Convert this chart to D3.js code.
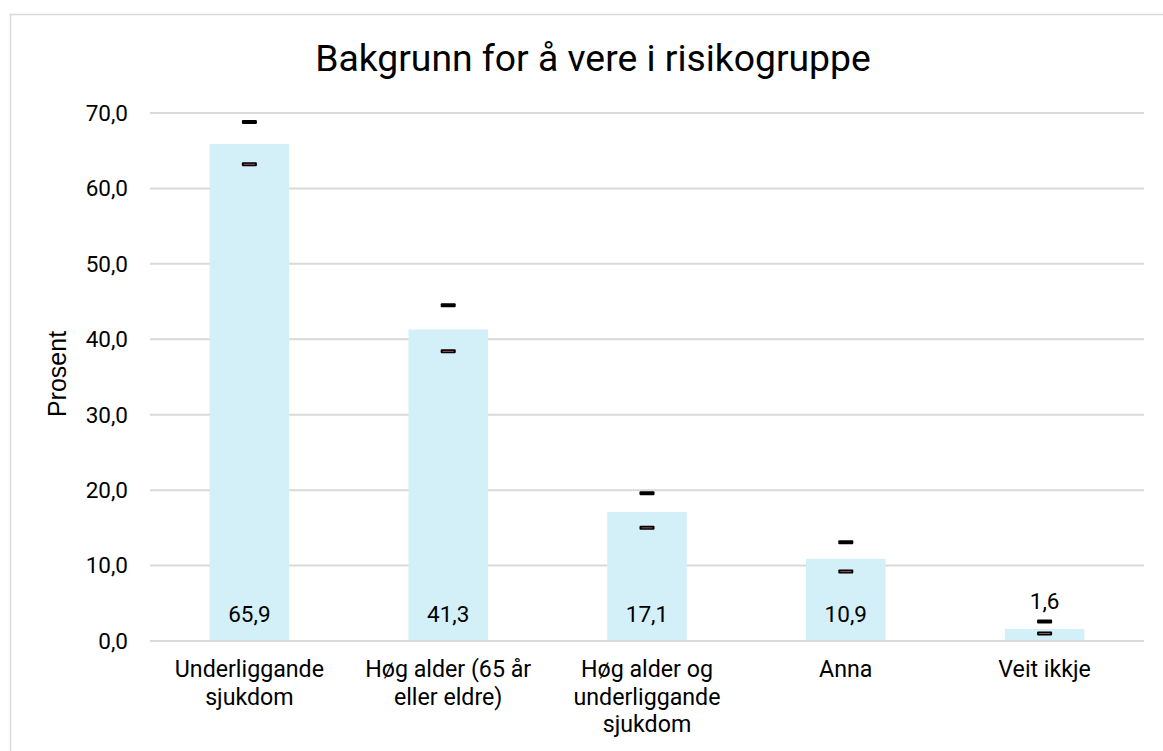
<!DOCTYPE html>
<html><head><meta charset="utf-8">
<script src="https://cdn.jsdelivr.net/npm/d3@7"></script>
<style>body{margin:0;background:#fff}svg{display:block}</style>
</head><body>
<svg id="c" width="1163" height="751"></svg>
<script>
const categories = [["Underliggande","sjukdom"],["Høg alder (65 år","eller eldre)"],["Høg alder og","underliggande","sjukdom"],["Anna"],["Veit ikkje"]];
const values = [65.9, 41.3, 17.1, 10.9, 1.6];
const upper = [68.8, 44.5, 19.6, 13.1, 2.6];
const lower = [63.2, 38.4, 15.0, 9.2, 1.0];
const yTicks = [0,10,20,30,40,50,60,70];

(function(){
const svg = d3.select("#c");
const fmt = v => d3.format(".1f")(v).replace(".", ",");
const FS = 22.5;
svg.append("rect").attr("x",10.5).attr("y",14.5).attr("width",1160).attr("height",760)
  .attr("fill","#fff").attr("stroke","#d9d9d9").attr("stroke-width",1.5);

const pLeft=150, pRight=1144, pTop=113, pBottom=641;
const x = d3.scaleBand().domain(d3.range(values.length)).range([pLeft,pRight]).paddingInner(0.6).paddingOuter(0.3);
const y = d3.scaleLinear().domain([0,70]).range([pBottom,pTop]);

svg.append("text").attr("x",593).attr("y",71).attr("text-anchor","middle")
  .attr("font-family","Roboto").attr("font-size",37.3).attr("fill","#000").text("Bakgrunn for å vere i risikogruppe");

const g = svg.append("g");
g.selectAll("line.grid").data(yTicks).join("line")
  .attr("x1",pLeft).attr("x2",pRight).attr("y1",d=>y(d)).attr("y2",d=>y(d))
  .attr("stroke","#d9d9d9").attr("stroke-width",2);
g.selectAll("text.tick").data(yTicks).join("text")
  .attr("x",128).attr("y",d=>y(d)).attr("dy","0.35em").attr("text-anchor","end")
  .attr("font-family","Roboto").attr("font-size",FS).text(d=>fmt(d));

svg.append("text").attr("transform","translate(66,374) rotate(-90)").attr("text-anchor","middle")
  .attr("font-family","Liberation Sans, Arial").attr("font-size",25).text("Prosent");

g.selectAll("rect.bar").data(values).join("rect")
  .attr("x",(d,i)=>x(i)).attr("width",x.bandwidth())
  .attr("y",d=>y(d)).attr("height",d=>y(0)-y(d)-1).attr("fill","#d3eff7");

const mw=15, mh=4;
g.selectAll("rect.up").data(upper).join("rect")
  .attr("x",(d,i)=>x(i)+x.bandwidth()/2-mw/2).attr("y",d=>y(d)-mh/2)
  .attr("width",mw).attr("height",mh).attr("rx",1).attr("fill","#000");
g.selectAll("rect.lo").data(lower).join("rect")
  .attr("x",(d,i)=>x(i)+x.bandwidth()/2-mw/2).attr("y",d=>y(d)-mh/2)
  .attr("width",mw).attr("height",mh).attr("rx",1).attr("fill","#000");
g.selectAll("line.lo").data(lower).join("line")
  .attr("x1",(d,i)=>x(i)+x.bandwidth()/2-mw/2+2).attr("x2",(d,i)=>x(i)+x.bandwidth()/2+mw/2-2)
  .attr("y1",d=>y(d)).attr("y2",d=>y(d)).attr("stroke","#a0505a").attr("stroke-width",1);

g.selectAll("text.val").data(values).join("text")
  .attr("x",(d,i)=>x(i)+x.bandwidth()/2)
  .attr("y",(d,i)=> d<5 ? y(upper[i])-12 : 622)
  .attr("text-anchor","middle").attr("font-family","Roboto").attr("font-size",FS).text(d=>fmt(d));

categories.forEach((lines,i)=>{
  const t = svg.append("text").attr("text-anchor","middle").attr("font-family","Roboto").attr("font-size",23.2);
  lines.forEach((l,k)=>t.append("tspan").attr("x",x(i)+x.bandwidth()/2).attr("y",677+k*27.5).text(l));
});
})();
</script>
</body></html>
